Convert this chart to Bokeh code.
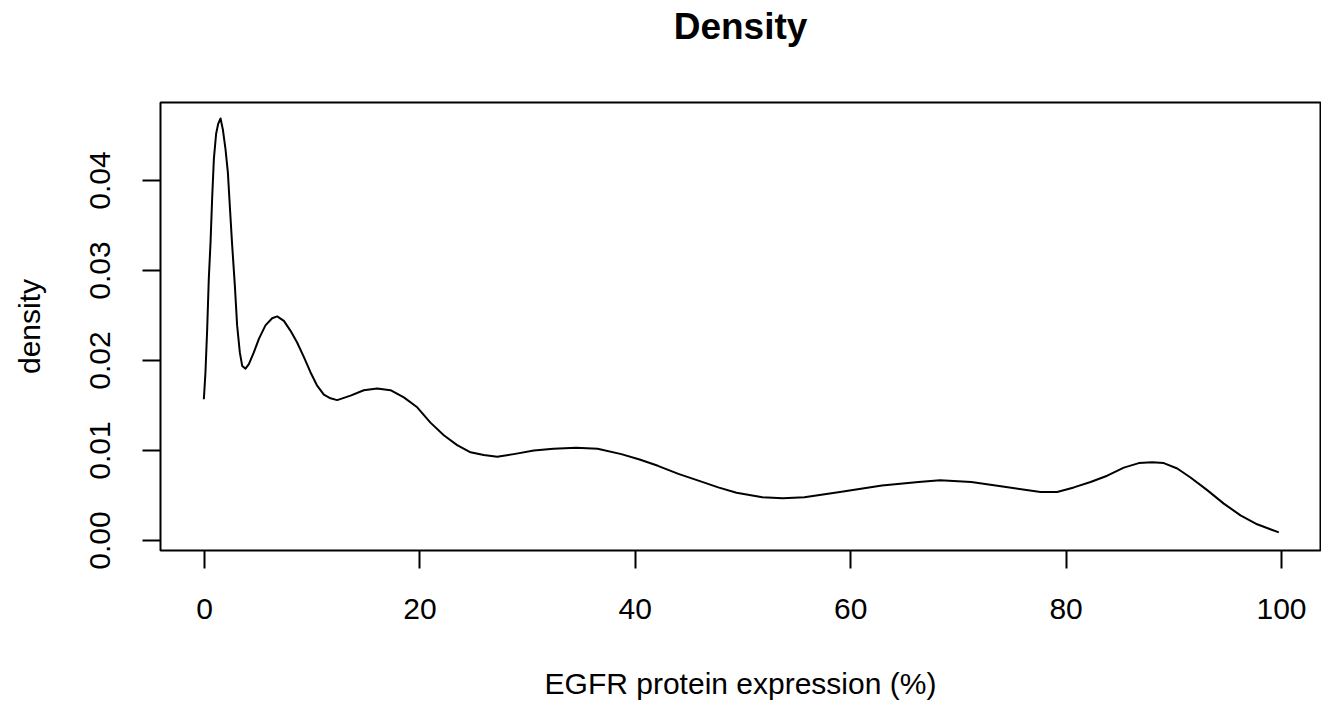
from bokeh.plotting import figure
from bokeh.models import Range1d, FixedTicker, NumeralTickFormatter, LinearAxis
from bokeh.embed import file_html
from bokeh.resources import INLINE

# Density curve
x_vals = [-0.06, 0.09, 0.25, 0.40, 0.56, 0.71, 0.87, 1.08, 1.27, 1.49, 1.70, 1.95, 2.17, 2.35,
          2.57, 2.82, 3.03, 3.28, 3.50, 3.81, 4.12, 4.58, 5.05, 5.66, 6.28, 6.75, 7.37, 7.99,
          8.6, 9.22, 9.84, 10.46, 11.08, 11.7, 12.32, 13.56, 14.79, 16.03, 17.27, 18.51,
          19.75, 20.98, 22.22, 23.46, 24.70, 25.93, 27.18, 28.72, 30.58, 32.4, 34.5, 36.5,
          38.7, 40.4, 42.1, 44.0, 46.0, 47.7, 49.4, 51.8, 53.7, 55.7, 59.0, 62.9, 66.3, 68.3,
          71.2, 74.1, 77.62, 79.17, 80.72, 82.27, 83.82, 85.36, 86.75, 87.99, 89.07, 90.32,
          91.55, 93.1, 94.64, 96.19, 97.74, 99.75]
density = [0.0157, 0.0187, 0.0235, 0.0291, 0.0331, 0.0380, 0.0424, 0.0452, 0.0463, 0.0469,
           0.0457, 0.0435, 0.0409, 0.0372, 0.0328, 0.0283, 0.0239, 0.0209, 0.0194, 0.0191,
           0.0196, 0.0209, 0.0224, 0.0239, 0.0247, 0.0249, 0.0244, 0.0233, 0.0220, 0.0204,
           0.0187, 0.0172, 0.0162, 0.0158, 0.0156, 0.0161, 0.0167, 0.0169, 0.0167, 0.0159,
           0.0148, 0.0131, 0.0117, 0.0106, 0.0098, 0.0095, 0.0093, 0.0096, 0.0100, 0.0102,
           0.0103, 0.0102, 0.0096, 0.0090, 0.0083, 0.0074, 0.0066, 0.0059, 0.0053, 0.0048,
           0.0047, 0.0048, 0.0054, 0.0061, 0.0065, 0.0067, 0.0065, 0.0060, 0.0054, 0.0054,
           0.0059, 0.0065, 0.0072, 0.0081, 0.0086, 0.0087, 0.0086, 0.0080, 0.0070, 0.0056,
           0.0041, 0.0028, 0.0018, 0.0009]

x_ticks = [0, 20, 40, 60, 80, 100]
y_ticks = [0.0, 0.01, 0.02, 0.03, 0.04]

title_text = "Density"
x_title = "EGFR protein expression (%)"
y_title = "density"

FONT = "Liberation Sans"

p = figure(width=1321, height=709, output_backend="svg", toolbar_location=None,
           x_range=Range1d(-4.085, 103.62), y_range=Range1d(-0.00111, 0.04867),
           min_border_left=160, min_border_right=1, min_border_top=102, min_border_bottom=159)

p.line(x_vals, density, line_color="black", line_width=2, line_join="round")

p.grid.visible = False
p.background_fill_color = "white"
p.border_fill_color = "white"
p.outline_line_color = "black"
p.outline_line_width = 2

bottom_axis = p.below[0]
left_axis = p.left[0]

for ax in (bottom_axis, left_axis):
    ax.axis_line_color = None
    ax.major_tick_line_color = "black"
    ax.major_tick_line_width = 2
    ax.major_tick_out = 18
    ax.major_tick_in = 0
    ax.minor_tick_line_color = None
    ax.major_label_text_font = FONT
    ax.major_label_text_font_size = "30px"
    ax.major_label_text_color = "black"
    ax.axis_label_text_font = FONT
    ax.axis_label_text_font_size = "30px"
    ax.axis_label_text_font_style = "normal"
    ax.axis_label_text_color = "black"

bottom_axis.ticker = FixedTicker(ticks=x_ticks)
left_axis.ticker = FixedTicker(ticks=y_ticks)
left_axis.formatter = NumeralTickFormatter(format="0.00")
left_axis.major_label_orientation = "vertical"

bottom_axis.axis_label = x_title
left_axis.axis_label = y_title
bottom_axis.major_label_standoff = 30
bottom_axis.axis_label_standoff = 45
left_axis.major_label_standoff = 32
left_axis.axis_label_standoff = 42

# Title drawn as the label of a bare axis above the frame
top_axis = LinearAxis(ticker=FixedTicker(ticks=[]), axis_label=title_text,
                      axis_line_color=None, major_tick_line_color=None,
                      minor_tick_line_color=None, major_label_text_font_size="0px",
                      major_tick_out=0, major_tick_in=0, major_label_standoff=0,
                      axis_label_standoff=56, axis_label_text_font=FONT,
                      axis_label_text_font_size="37px", axis_label_text_font_style="bold",
                      axis_label_text_color="black")
p.add_layout(top_axis, "above")

open("out.html", "w").write(file_html(p, INLINE))
